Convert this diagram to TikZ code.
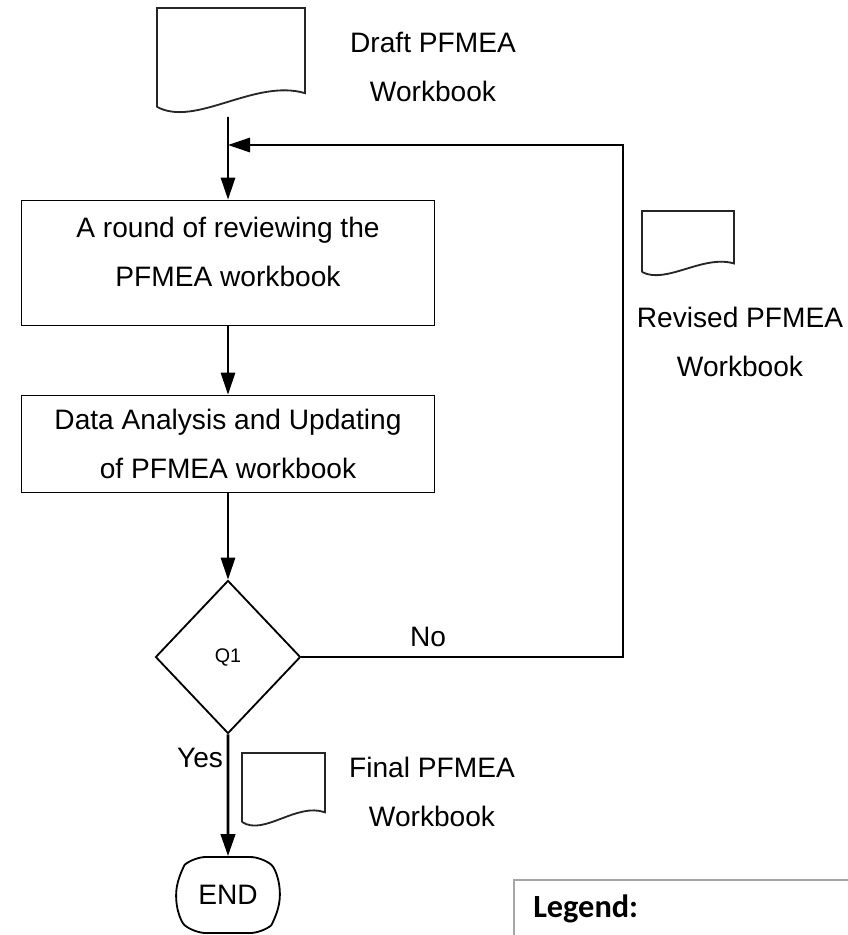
\documentclass[tikz,border=0pt]{standalone}
\usepackage{fontspec}
\setmainfont{Liberation Sans}
\newfontfamily\legendfont{Carlito}
\usetikzlibrary{arrows.meta,shapes.geometric,shapes.misc,positioning}
\tikzset{
  >={Triangle[length=0.55cm,width=0.36cm]},
  every node/.style={font=\fontsize{20}{35}\selectfont},
  line/.style={line width=1.3pt},
  procbox/.style={draw,line width=1.3pt,rectangle,minimum width=10.325cm,align=center,inner sep=0pt},
  decision/.style={draw,line width=1.3pt,diamond,minimum width=3.625cm,minimum height=3.825cm,
    inner sep=0pt,font=\fontsize{14}{16}\selectfont},
  terminal/.style={draw,line width=1.3pt,rounded rectangle,rounded rectangle arc length=100,
    rounded corners=0.3cm,minimum width=2.825cm,minimum height=1.9cm},
  doclabel/.style={align=center},
  docsym/.pic={
    \draw[line width=1.3pt,black!85] (0,1) -- (0,0) -- (1,0) -- (1,0.86)
      .. controls (0.66,0.71) and (0.26,1.21) .. cycle;
    \coordinate (-bot) at (0.48,1.1);
  },
}

\begin{document}
\begin{tikzpicture}[x=0.025cm,y=-0.025cm]
  \useasboundingbox (0,0) rectangle (848,935);
  \clip (0,0) rectangle (848,935);
  % documents
  \pic[xscale=148,yscale=99] (draft) at (157,8) {docsym};
  \pic[xscale=92,yscale=61] (revised) at (642,211) {docsym};
  \pic[xscale=83,yscale=69] (final) at (242,753) {docsym};
  \node[doclabel] (draftlbl) at (433,67) {Draft PFMEA\\Workbook};
  \node[doclabel] (revisedlbl) at (740,342) {Revised PFMEA\\Workbook};
  \node[doclabel] (finallbl) at (432,792) {Final PFMEA\\Workbook};
  % flow
  \node[procbox,minimum height=3.125cm,text depth=0.55cm] (review) at (228,263)
    {A round of reviewing the\\PFMEA workbook};
  \node[procbox,minimum height=2.425cm] (update) at (228,444)
    {Data Analysis and Updating\\of PFMEA workbook};
  \node[decision] (q1) at (228,657) {Q1};
  \node[terminal] (finish) at (228,895) {END};
  \coordinate (corner) at (623,145);
  \coordinate (join) at (228,145);
  \draw[line,->] (draft-bot) -- (review);
  \draw[line,->] (review) -- (update);
  \draw[line,->] (update) -- (q1);
  \draw[line width=2pt,->] (q1) -- (finish);
  \draw[line,->] (q1.east) -| (corner) -- (join);
  \node (no) at (428,637) {No};
  \node (yes) at (200,758) {Yes};
  % legend
  \draw[black!35,line width=1.2pt] (514,880) rectangle (870,970);
  \node[font=\legendfont\bfseries\fontsize{23}{26}\selectfont,anchor=base west,inner sep=0pt]
    (legend) at (533,917) {Legend:};
\end{tikzpicture}
\end{document}
